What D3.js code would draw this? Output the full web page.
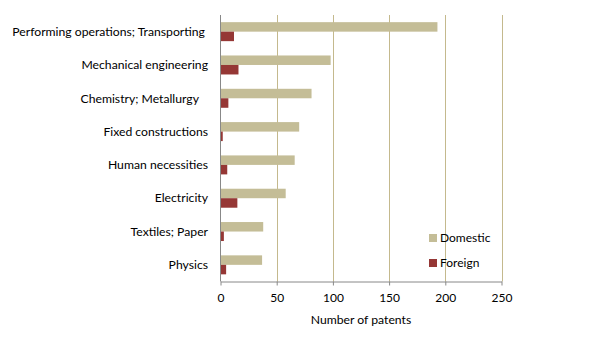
<!DOCTYPE html>
<html><head><meta charset="utf-8">
<script src="https://cdn.jsdelivr.net/npm/d3@7"></script>
<style>
body{margin:0;background:#fff;}
svg{font-family:Lato,"Open Sans",sans-serif;}
</style></head>
<body>
<script>
const categories = ["Performing operations; Transporting ","Mechanical engineering","Chemistry; Metallurgy   ","Fixed constructions","Human necessities","Electricity","Textiles; Paper","Physics"];
const domestic = [193, 98, 81, 70, 66, 58, 38, 37];
const foreign = [12, 16, 7, 2, 6, 15, 3, 5];
const seriesNames = ["Domestic","Foreign"];
const seriesColors = ["#c4bd97","#953735"];
const xTicks = [0,50,100,150,200,250];

const W=609,H=344;
const m={left:220.5,right:W-501.5,top:15,bottom:H-281.5};
const svg=d3.select("body").append("svg").attr("width",W).attr("height",H);
const x=d3.scaleLinear().domain([0,250]).range([m.left,W-m.right]);
const y=d3.scaleBand().domain(categories).range([m.top,H-m.bottom]).paddingInner(0.43).paddingOuter(0.215);
const ys=d3.scaleBand().domain(seriesNames).range([0,y.bandwidth()]);

// gridlines
svg.append("g").selectAll("line").data(xTicks.slice(1)).join("line")
  .attr("x1",d=>Math.round(x(d))+0.5).attr("x2",d=>Math.round(x(d))+0.5)
  .attr("y1",m.top).attr("y2",H-m.bottom).attr("stroke","#c4b98d").attr("stroke-width",1);

const data=[domestic,foreign];
data.forEach((vals,si)=>{
  svg.append("g").selectAll("rect").data(vals).join("rect")
    .attr("x",x(0)).attr("y",(d,i)=>y(categories[i])+ys(seriesNames[si]))
    .attr("width",d=>x(d)-x(0)).attr("height",ys.bandwidth())
    .attr("fill",seriesColors[si]);
});

// x axis
const xa=svg.append("g").attr("transform",`translate(0,${H-m.bottom})`)
  .call(d3.axisBottom(x).tickValues(xTicks).tickSize(4).tickSizeOuter(0).tickPadding(8));
xa.select(".domain").attr("stroke","#888");
xa.selectAll(".tick line").attr("stroke","#888");
xa.selectAll("text").attr("font-size","12px").attr("fill","#000").attr("font-family","Lato");

// y axis line
svg.append("line").attr("x1",x(0)).attr("x2",x(0)).attr("y1",m.top).attr("y2",H-m.bottom).attr("stroke","#888");

// category labels
svg.append("g").selectAll("text").data(categories).join("text")
  .attr("x",208).attr("y",d=>y(d)+y.bandwidth()/2)
  .attr("dy","0.35em").attr("text-anchor","end").attr("font-size","12.2px").attr("fill","#000")
  .style("white-space","pre")
  .text(d=>d);

// axis title
svg.append("text").attr("x",361).attr("y",324).attr("text-anchor","middle").attr("font-size","12.2px").text("Number of patents");

// legend
const lg=svg.append("g");
seriesNames.forEach((s,i)=>{
  lg.append("rect").attr("x",429).attr("y",234+i*25).attr("width",8).attr("height",8).attr("fill",seriesColors[i]);
  lg.append("text").attr("x",440).attr("y",238+i*25).attr("dy","0.35em").attr("font-size","12px").text(s);
});
</script>
</body></html>
